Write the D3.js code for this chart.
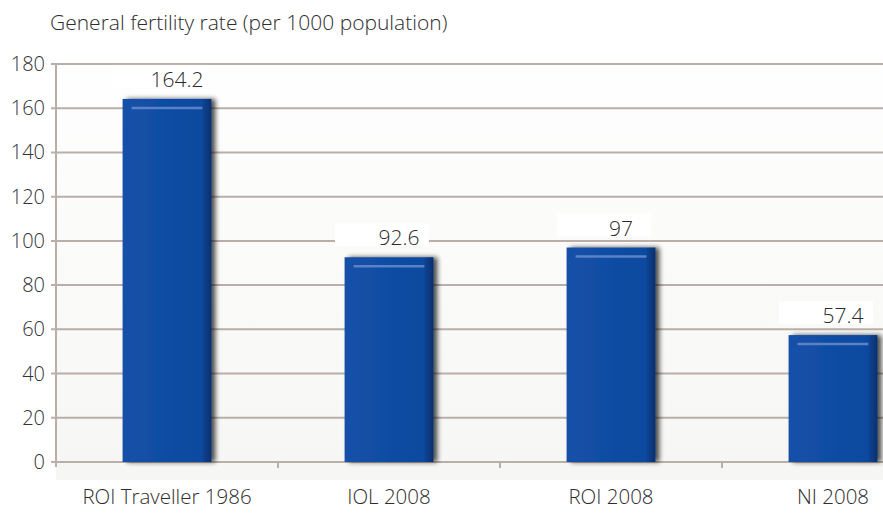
<!DOCTYPE html>
<html><head><meta charset="utf-8">
<script src="https://cdn.jsdelivr.net/npm/d3@7"></script>
<style>
html,body{margin:0;padding:0;background:#fff;}
svg{display:block;font-family:"Open Sans","Noto Sans",sans-serif;font-weight:300;}
</style></head>
<body>
<svg id="chart" width="883" height="513"></svg>
<script>
const categories = ["ROI Traveller 1986", "IOL 2008", "ROI 2008", "NI 2008"];
const values = [164.2, 92.6, 97, 57.4];
const valueLabels = ["164.2", "92.6", "97", "57.4"];
const yTicks = [0, 20, 40, 60, 80, 100, 120, 140, 160, 180];
const title = "General fertility rate (per 1000 population)";

const svg = d3.select("#chart");
const W = 883, H = 513;
const x0 = 56, x1 = 944, yTop = 64, yBot = 462;

const defs = svg.append("defs");
const bg = defs.append("linearGradient").attr("id","bg").attr("x1",0).attr("y1",0).attr("x2",0).attr("y2",1);
bg.append("stop").attr("offset","0%").attr("stop-color","#ffffff");
bg.append("stop").attr("offset","100%").attr("stop-color","#f6f6f4");
const bar = defs.append("linearGradient").attr("id","bar").attr("x1",0).attr("y1",0).attr("x2",1).attr("y2",0);
bar.append("stop").attr("offset","0%").attr("stop-color","#1550a8");
bar.append("stop").attr("offset","88%").attr("stop-color","#0c4aa0");
bar.append("stop").attr("offset","100%").attr("stop-color","#062f6c");
const f = defs.append("filter").attr("id","shadow").attr("x","-20%").attr("y","-10%").attr("width","140%").attr("height","120%");
f.append("feGaussianBlur").attr("in","SourceAlpha").attr("stdDeviation",2.5);
f.append("feOffset").attr("dx",4).attr("dy",0).attr("result","ob");
f.append("feComponentTransfer").append("feFuncA").attr("type","linear").attr("slope",0.7);
const m = f.append("feMerge"); m.append("feMergeNode"); m.append("feMergeNode").attr("in","SourceGraphic");

svg.append("rect").attr("x",0).attr("y",0).attr("width",W).attr("height",H).attr("fill","#fff");
svg.append("rect").attr("x",x0).attr("y",40).attr("width",W-x0).attr("height",440).attr("fill","url(#bg)");

const x = d3.scaleBand().domain(categories).range([x0, x1]).paddingInner(0.6).paddingOuter(0.3);
const y = d3.scaleLinear().domain([0,180]).range([yBot, yTop]);

// gridlines
svg.append("g").selectAll("line").data(yTicks).join("line")
  .attr("x1",x0-5).attr("x2",W).attr("y1",d=>y(d)).attr("y2",d=>y(d))
  .attr("stroke","#b9aeaa").attr("stroke-width",2);

// y axis line
svg.append("line").attr("x1",x0).attr("x2",x0).attr("y1",yTop).attr("y2",yBot+5)
  .attr("stroke","#b9aeaa").attr("stroke-width",2);

// x category boundary ticks
const bounds = d3.range(1, categories.length).map(i => x0 + i*(x1-x0)/categories.length);
svg.append("g").selectAll("line").data(bounds).join("line")
  .attr("x1",d=>d).attr("x2",d=>d).attr("y1",yBot).attr("y2",yBot+6)
  .attr("stroke","#b9aeaa").attr("stroke-width",2);

// y tick labels
svg.append("g").selectAll("text").data(yTicks).join("text")
  .attr("x",45).attr("y",d=>y(d)).attr("dy","0.35em").attr("text-anchor","end")
  .attr("font-size",20).attr("fill","#333").text(d=>d);

// bars
const bars = svg.append("g");
bars.selectAll("rect").data(values).join("rect")
  .attr("x",(d,i)=>x(categories[i])).attr("width",x.bandwidth())
  .attr("y",d=>y(d)).attr("height",d=>yBot-y(d))
  .attr("fill","url(#bar)").attr("filter","url(#shadow)");
// highlight near top
bars.selectAll("line").data(values).join("line")
  .attr("x1",(d,i)=>x(categories[i])+9).attr("x2",(d,i)=>x(categories[i])+x.bandwidth()-9)
  .attr("y1",d=>y(d)+9).attr("y2",d=>y(d)+9)
  .attr("stroke","#6d8fd0").attr("stroke-width",2.5).attr("opacity",0.8);

// value labels with white box
const lab = svg.append("g");
lab.selectAll("rect").data(values).join("rect")
  .attr("x",(d,i)=>x(categories[i])+x.bandwidth()/2-54).attr("width",94)
  .attr("y",d=>y(d)-34).attr("height",23).attr("fill","#fff");
lab.selectAll("text").data(values).join("text")
  .attr("x",(d,i)=>x(categories[i])+x.bandwidth()/2+10).attr("y",d=>y(d)-12)
  .attr("text-anchor","middle").attr("font-size",21).attr("fill","#2a2a2a")
  .text((d,i)=>valueLabels[i]);

// category labels
svg.append("g").selectAll("text").data(categories).join("text")
  .attr("x",d=>x(d)+x.bandwidth()/2).attr("y",504)
  .attr("text-anchor","middle").attr("font-size",20.5).attr("fill","#2e2e2e")
  .text(d=>d);

// title
svg.append("text").attr("x",50).attr("y",30).attr("font-size",21).attr("fill","#2e2e2e").text(title);
</script>
</body></html>
